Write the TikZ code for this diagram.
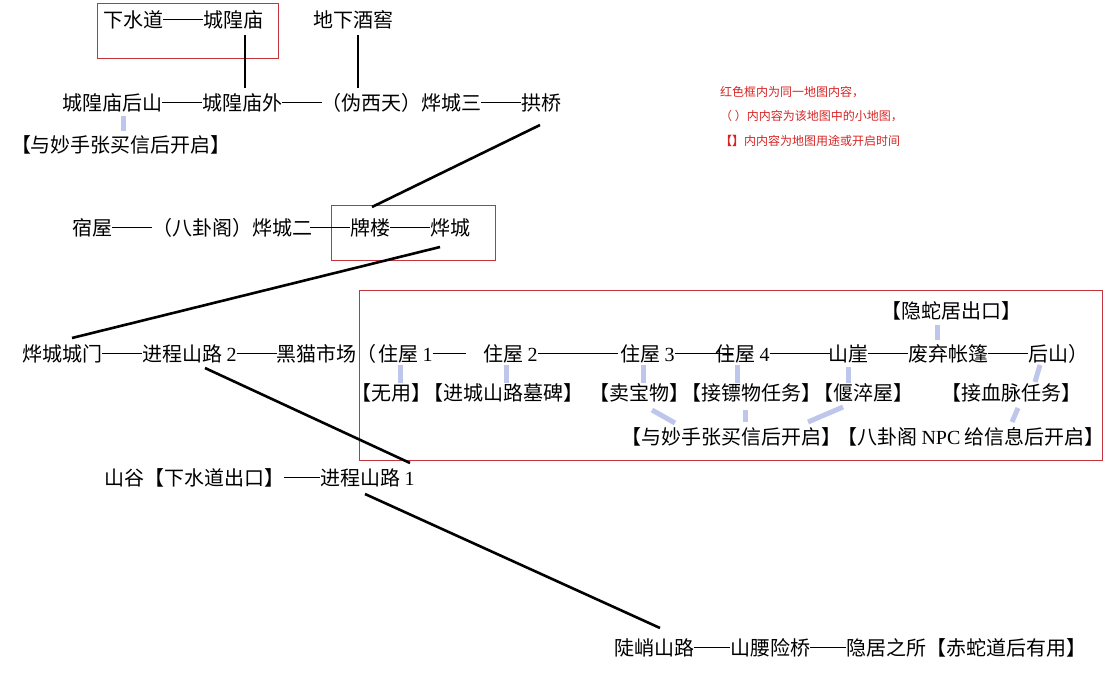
\documentclass[tikz,border=0pt]{standalone}
\usepackage{fontspec}
\setmainfont{Noto Sans CJK SC}
\newfontfamily\lat{Liberation Serif}
\newcommand\dline[1]{\rule[0.36em]{#1em}{0.055em}}
\newcommand\dd{\dline{2}}
\newcommand\bk{\kern-8pt}
\definecolor{boxred}{RGB}{196,52,60}
\definecolor{legred}{RGB}{214,36,36}
\definecolor{hintblue}{RGB}{180,188,232}
\tikzset{
  txt/.style={inner sep=0pt, font=\fontsize{20}{22}\selectfont, text=black},
  leg/.style={inner sep=0pt, anchor=west, font=\fontsize{12}{14}\selectfont, text=legred},
  redbox/.style={draw=boxred, line width=1pt, inner sep=0pt},
  road/.style={line width=2.6pt, black},
  hint/.style={line width=5pt, draw=hintblue, opacity=0.85}
}
\begin{document}
\begin{tikzpicture}[x=1pt,y=-1pt]
\useasboundingbox (0,0) rectangle (1104,680);
% red frames
\node[redbox, minimum width=181pt, minimum height=55pt] (box1) at (187.5,30.5) {};
\node[redbox, minimum width=164pt, minimum height=55pt] (box2) at (413,232.5) {};
\node[redbox, minimum width=743pt, minimum height=170pt] (box3) at (730.5,375) {};
% row 1
\node[txt, anchor=west] (xsd) at (103,20) {下水道\dd 城隍庙};
\node[txt, anchor=west] (dxjj) at (313,20) {地下酒窖};
% row 2
\node[txt, anchor=west] (r2a) at (62,103) {城隍庙后山\dd 城隍庙外\dd};
\node[txt, anchor=west] (r2b) at (321,103) {（伪西天）烨城三\dd 拱桥};
\node[txt] (r2n) at (121,145) {【与妙手张买信后开启】};
% row 3
\node[txt, anchor=west] (r3a) at (72,228) {宿屋\dd（八卦阁）烨城二};
\node[txt, anchor=west] (r3b) at (310,228) {\dd 牌楼\dd 烨城};
% row 4
\node[txt, anchor=west] (r4a) at (22,354) {烨城城门\dd 进程山路 {\lat 2}\dd 黑猫市场（};
\node[txt, anchor=west] (r4b) at (378,354) {住屋 {\lat 1}\dline{1.65}};
\node[txt, anchor=west] (r4c) at (483,354) {住屋 {\lat 2}\dline{4}};
\node[txt, anchor=west] (r4d) at (620,354) {住屋 {\lat 3}\dline{2.9}};
\node[txt, anchor=west] (r4e) at (715,354) {住屋 {\lat 4}\dline{3}};
\node[txt, anchor=west] (r4f) at (828,354) {山崖\dd 废弃帐篷\dd 后山）};
\node[txt] (yscc) at (951.5,311) {【隐蛇居出口】};
% row 5
\node[txt] (n5a) at (467,393) {【无用】\bk【进城山路墓碑】};
\node[txt] (n5b) at (751.5,393) {【卖宝物】\bk【接镖物任务】\bk【偃淬屋】};
\node[txt] (n5c) at (1011,393) {【接血脉任务】};
% row 6
\node[txt] (n6a) at (731.5,437) {【与妙手张买信后开启】};
\node[txt] (n6b) at (971,437) {【八卦阁 {\lat NPC} 给信息后开启】};
% row 7, 8
\node[txt, anchor=west] (r7) at (104,478) {山谷【下水道出口】\dline{1.8}进程山路 {\lat 1}};
\node[txt, anchor=west] (r8) at (614,648) {陡峭山路\dline{1.8}山腰险桥\dline{1.8}隐居之所【赤蛇道后有用】};
% legend
\node[leg] (lg1) at (720,92) {红色框内为同一地图内容，};
\node[leg] (lg2) at (720,116) {（ ）内内容为该地图中的小地图，};
\node[leg] (lg3) at (720,141) {\textbf{【】}内内容为地图用途或开启时间};
% connector ends
\coordinate (a1) at (245,35);  \coordinate (a2) at (245,88);
\coordinate (b1) at (358,35);  \coordinate (b2) at (358,88);
\coordinate (c1) at (540,125); \coordinate (c2) at (372,207);
\coordinate (d1) at (440,247); \coordinate (d2) at (72,338);
\coordinate (e1) at (205,368); \coordinate (e2) at (410,463);
\coordinate (f1) at (365,494); \coordinate (f2) at (660,628);
\draw[road] (a1) -- (a2);
\draw[road] (b1) -- (b2);
\draw[road] (c1) -- (c2);
\draw[road] (d1) -- (d2);
\draw[road] (e1) -- (e2);
\draw[road] (f1) -- (f2);
% hint marks
\coordinate (h1a) at (123,116);  \coordinate (h1b) at (123,131);
\coordinate (h2a) at (400,365);  \coordinate (h2b) at (400,383);
\coordinate (h3a) at (506,365);  \coordinate (h3b) at (506,383);
\coordinate (h4a) at (643,365);  \coordinate (h4b) at (643,383);
\coordinate (h5a) at (737,365);  \coordinate (h5b) at (737,383);
\coordinate (h6a) at (848,367);  \coordinate (h6b) at (848,383);
\coordinate (h7a) at (1040,365); \coordinate (h7b) at (1035,382);
\coordinate (h8a) at (937,325);  \coordinate (h8b) at (937,340);
\coordinate (h9a) at (652,410);  \coordinate (h9b) at (675,423);
\coordinate (hAa) at (745,410);  \coordinate (hAb) at (745,422);
\coordinate (hBa) at (843,407);  \coordinate (hBb) at (808,422);
\coordinate (hCa) at (1018,408); \coordinate (hCb) at (1012,422);
\foreach \h in {h1,h2,h3,h4,h5,h6,h7,h8,h9,hA,hB,hC}
  \draw[hint] (\h a) -- (\h b);
\end{tikzpicture}
\end{document}
